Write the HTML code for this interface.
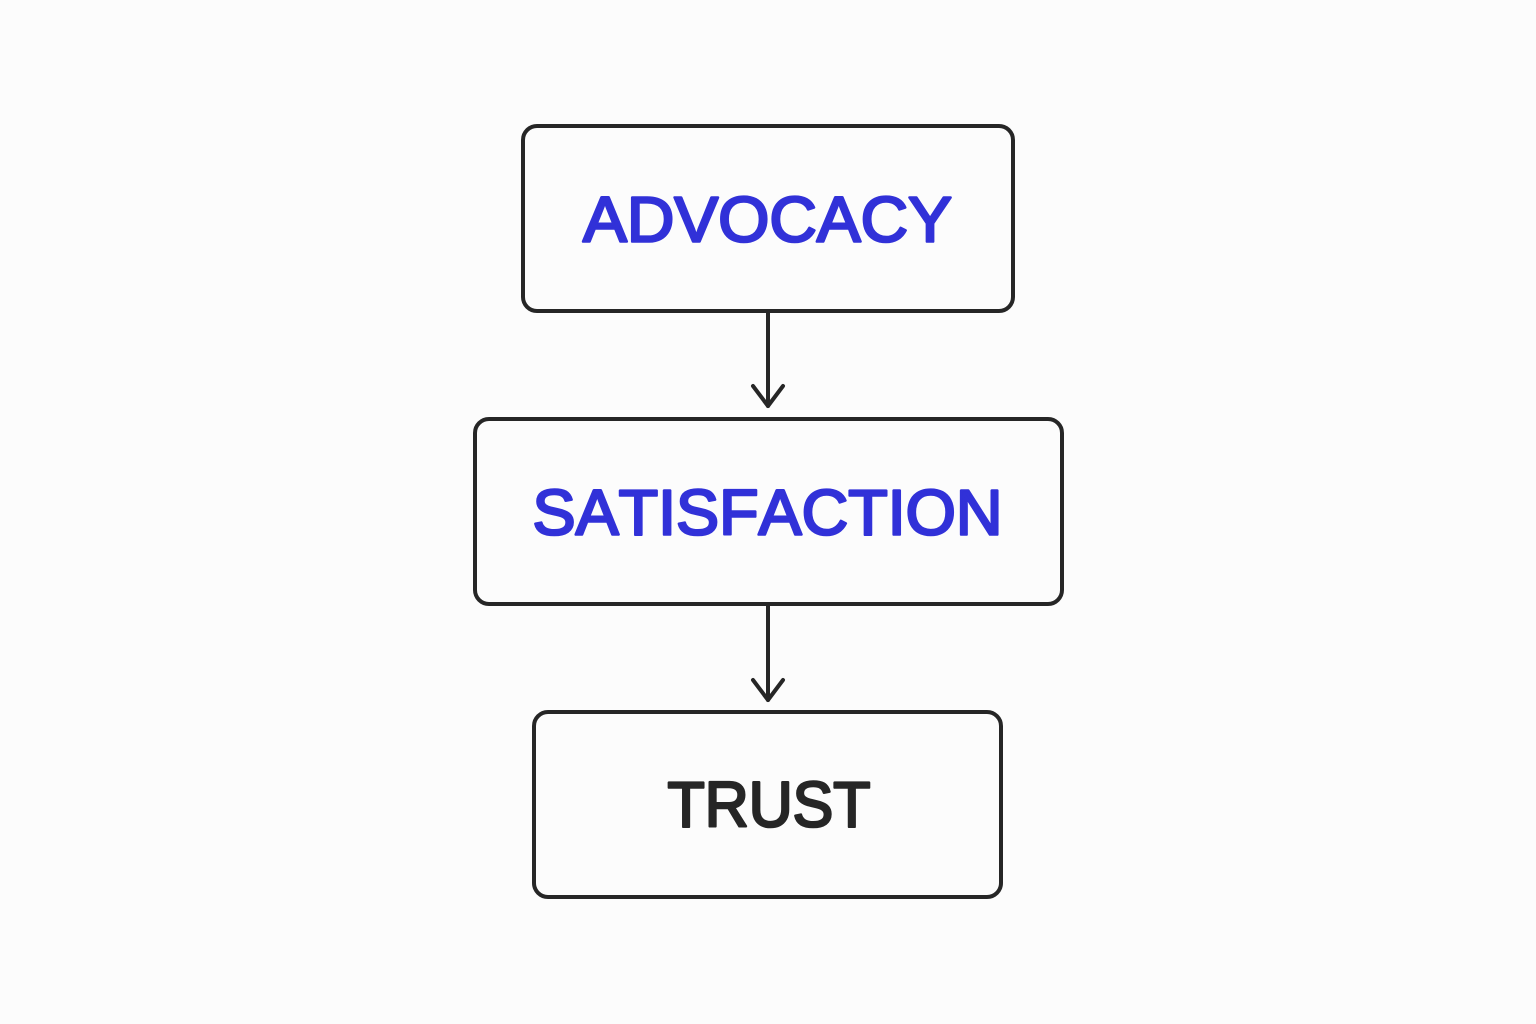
<!DOCTYPE html>
<html>
<head>
<meta charset="utf-8">
<style>
html,body{margin:0;padding:0;background:#fcfcfc;}
svg{display:block;}
text{font-family:"Liberation Sans",sans-serif;font-weight:400;font-size:64px;stroke-width:2.6px;stroke-linejoin:round;font-kerning:none;}
</style>
</head>
<body>
<svg width="1536" height="1024" viewBox="0 0 1536 1024" xmlns="http://www.w3.org/2000/svg">
<rect width="1536" height="1024" fill="#fcfcfc"/>
<g fill="none" stroke="#262626" stroke-width="4" stroke-linecap="round" stroke-linejoin="round">
<rect x="523" y="126" width="490" height="185" rx="14"/>
<rect x="475" y="419" width="587" height="185" rx="14"/>
<rect x="534" y="712" width="467" height="185" rx="14"/>
<path d="M768 311V406"/>
<path d="M753 386L768 406L783 386"/>
<path d="M768 604V700"/>
<path d="M753 680L768 700L783 680"/>
</g>
<text x="583" y="241.500" textLength="369" lengthAdjust="spacingAndGlyphs" fill="#3131d8" stroke="#3131d8">ADVOCACY</text>
<text x="532.500" y="534.500" textLength="470" lengthAdjust="spacingAndGlyphs" fill="#3131d8" stroke="#3131d8">SATISFACTION</text>
<text x="667.500" y="826.500" textLength="203" lengthAdjust="spacingAndGlyphs" fill="#262626" stroke="#262626">TRUST</text>
</svg>
</body>
</html>
